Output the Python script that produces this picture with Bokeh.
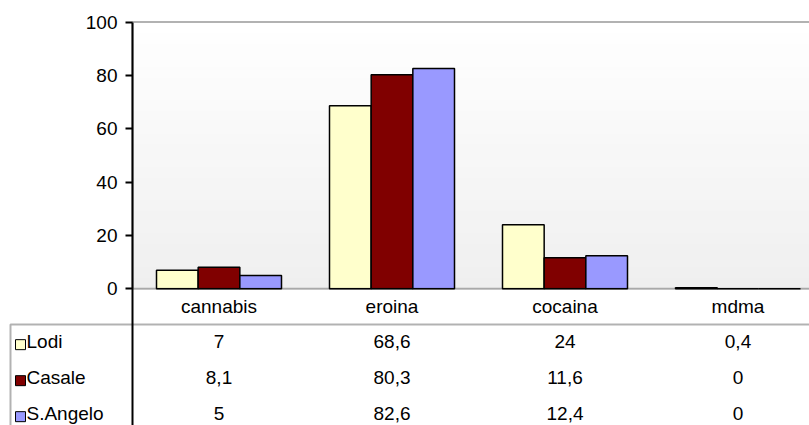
from bokeh.plotting import figure
from bokeh.models import Range1d, FixedTicker, BoxAnnotation
from bokeh.embed import file_html
from bokeh.resources import INLINE
from bokeh.core.properties import value

# ---- data ----
categories = ["cannabis", "eroina", "cocaina", "mdma"]
series_names = ["Lodi", "Casale", "S.Angelo"]
lodi = [7, 68.6, 24, 0.4]
casale = [8.1, 80.3, 11.6, 0]
s_angelo = [5, 82.6, 12.4, 0]
series_colors = ["#FFFFCC", "#800000", "#9999FF"]
y_ticks = [0, 20, 40, 60, 80, 100]

# ---- style / layout constants (pixels) ----
FONT = "Liberation Sans"
FS = "19px"
W, H = 809, 425
AXIS_X = 132.0       # y axis position
ZERO_Y = 288.3       # value 0
PX_PER_UNIT = 2.667  # value scale
CAT_PX = 173.0       # category width
TABLE_TOP = 324.0    # first table row top
ROW_PX = 36.0

series = [lodi, casale, s_angelo]


def fmt(v):
    return f"{v:g}".replace(".", ",")


x_start = -AXIS_X / CAT_PX
x_end = (W - AXIS_X) / CAT_PX
y_start = -(H - ZERO_Y) / PX_PER_UNIT
y_end = ZERO_Y / PX_PER_UNIT

p = figure(width=W, height=H, output_backend="svg", toolbar_location=None, title=None,
           x_range=Range1d(x_start, x_end), y_range=Range1d(y_start, y_end),
           x_axis_type=None, min_border=0)
p.min_border_left = 0
p.min_border_right = 0
p.min_border_top = 0
p.min_border_bottom = 0
p.outline_line_color = None
p.ygrid.visible = False
# table rows in their own range: row r spans [r, r+1], row -1 = category labels
p.extra_y_ranges = {"table": Range1d(start=(H - TABLE_TOP) / ROW_PX, end=-TABLE_TOP / ROW_PX)}

ax = p.yaxis[0]
ax.fixed_location = 0
ax.bounds = (y_start - 5, 100)
ax.ticker = FixedTicker(ticks=y_ticks)
ax.minor_tick_line_color = None
ax.major_tick_in = 0
ax.major_tick_out = 7
ax.major_tick_line_width = 2
ax.major_tick_line_color = "black"
ax.axis_line_width = 2
ax.axis_line_color = "black"
ax.major_label_text_font = FONT
ax.major_label_text_font_size = FS
ax.major_label_text_color = "black"
ax.major_label_standoff = 8

# gradient plot-area background (white at top -> light grey at bottom)
n_bands = 24
for i in range(n_bands):
    b = 100.0 * i / n_bands
    t = min(100.0 * (i + 1) / n_bands + 0.3, 100.0)
    frac = (i + 0.5) / n_bands
    g = int(round(0xEF + (0xFF - 0xEF) * frac))
    p.add_layout(BoxAnnotation(left=0, bottom=b, top=t, fill_color="#%02x%02x%02x" % (g, g, g),
                               fill_alpha=1.0, line_color=None, level="underlay"))

bar_w = (125.0 / CAT_PX) / 3.0
for k, (vals, col) in enumerate(zip(series, series_colors)):
    xs = [i + 0.5 + (k - 1) * bar_w for i in range(len(categories))]
    p.vbar(x=xs, top=vals, bottom=0, width=bar_w, fill_color=col,
           line_color="black", line_width=1.5)

# plot-area top line and category axis line
p.add_layout(BoxAnnotation(left=0, right=x_end + 1, bottom=0, top=100, fill_alpha=0,
                           line_color="black", line_width=2, level="overlay"))

# data table frame
p.add_layout(BoxAnnotation(left=(10 - AXIS_X) / CAT_PX, right=x_end + 1,
                           top=0, bottom=(H - TABLE_TOP) / ROW_PX + 1, y_range_name="table",
                           fill_alpha=0, line_color="black", line_width=2, level="overlay"))

# category labels
p.text(x=[i + 0.5 for i in range(len(categories))], y=[-0.5] * len(categories),
       y_range_name="table", text=categories, text_align="center", text_baseline="middle",
       text_font=value(FONT), text_font_size=FS, text_color="black")

# legend keys + series names
key_rows = [r + 0.56 for r in range(len(series_names))]
label_rows = [r + 0.48 for r in range(len(series_names))]
p.rect(x=[(20 - AXIS_X) / CAT_PX] * len(series_names), y=key_rows, y_range_name="table",
       width=10, height=10, width_units="screen", height_units="screen",
       fill_color=series_colors, line_color="black", line_width=1)
p.text(x=[(26 - AXIS_X) / CAT_PX] * len(series_names), y=label_rows, y_range_name="table",
       text=series_names, text_align="left", text_baseline="middle",
       text_font=value(FONT), text_font_size=FS, text_color="black")

# values
for r, vals in enumerate(series):
    p.text(x=[i + 0.5 for i in range(len(categories))], y=[r + 0.48] * len(vals),
           y_range_name="table", text=[fmt(v) for v in vals],
           text_align="center", text_baseline="middle",
           text_font=value(FONT), text_font_size=FS, text_color="black")

open("out.html", "w").write(file_html(p, INLINE))
